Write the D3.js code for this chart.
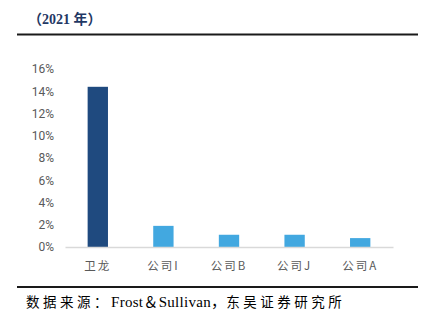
<!DOCTYPE html>
<html>
<head>
<meta charset="utf-8">
<script src="https://cdn.jsdelivr.net/npm/d3@7"></script>
<style>
  body { margin: 0; background: #fff; }
</style>
</head>
<body>
<div id="chart"></div>
<script>
var categories = ["卫龙", "公司I", "公司B", "公司J", "公司A"];
var shares = [14.4, 1.9, 1.1, 1.1, 0.8];
var yTicks = [0, 2, 4, 6, 8, 10, 12, 14, 16];

var width = 435, height = 317;
var plot = {left: 65, right: 393, top: 69, bottom: 247};

var svg = d3.select("#chart").append("svg")
    .attr("width", width)
    .attr("height", height);

// title and frame lines
svg.append("text")
    .attr("x", 28)
    .attr("y", 24)
    .attr("fill", "#1f3864")
    .style("font-family", "'Liberation Serif', 'Noto Sans CJK SC', serif")
    .style("font-weight", "bold")
    .style("font-size", "14px")
    .text("（2021 年）");

svg.append("line")
    .attr("x1", 17).attr("x2", 418)
    .attr("y1", 34.5).attr("y2", 34.5)
    .style("stroke", "#1a1a1a")
    .style("stroke-width", 2);

svg.append("line")
    .attr("x1", 17).attr("x2", 418)
    .attr("y1", 287).attr("y2", 287)
    .style("stroke", "#1a1a1a")
    .style("stroke-width", 2);

var x = d3.scaleBand()
    .domain(categories)
    .range([plot.left, plot.right])
    .paddingInner(0.69)
    .paddingOuter(0.345);

var y = d3.scaleLinear()
    .domain([0, 16])
    .range([plot.bottom, plot.top]);

svg.selectAll("rect.bar")
    .data(shares)
    .enter().append("rect")
    .attr("class", "bar")
    .attr("x", function(d, i){ return x(categories[i]); })
    .attr("y", function(d){ return y(d); })
    .attr("width", x.bandwidth())
    .attr("height", function(d){ return y(0) - y(d); })
    .style("fill", function(d, i){ return i === 0 ? "#1f4a7f" : "#42a8e0"; });

// y axis labels (no line)
var yAxis = svg.append("g")
    .attr("transform", "translate(" + (plot.left - 11) + ",0)")
    .call(d3.axisLeft(y).tickValues(yTicks).tickSize(0).tickPadding(0)
        .tickFormat(function(d){ return d + "%"; }));
yAxis.select(".domain").remove();
yAxis.selectAll("text")
    .style("font-family", "Roboto, 'Noto Sans', sans-serif")
    .style("font-size", "12px")
    .attr("fill", "#595959");

// x axis
var xAxis = svg.append("g")
    .attr("transform", "translate(0," + plot.bottom + ")")
    .call(d3.axisBottom(x).tickSize(0).tickPadding(15));
xAxis.select(".domain")
    .style("stroke", "#d9d9d9")
    .style("stroke-width", 1.5);
xAxis.selectAll("text")
    .style("font-family", "'Noto Sans CJK SC', sans-serif")
    .style("font-size", "11.5px")
    .style("letter-spacing", "2px")
    .attr("fill", "#595959");

// source note
var note = svg.append("text")
    .attr("x", 26)
    .attr("y", 307)
    .attr("fill", "#000")
    .style("font-family", "'Liberation Serif', 'Noto Sans CJK SC', serif")
    .style("font-size", "13.5px");
note.append("tspan").style("letter-spacing", "3.5px").text("数据来源：");
note.append("tspan").style("font-size", "15px").style("letter-spacing", "0.3px").text("Frost＆Sullivan，");
note.append("tspan").style("letter-spacing", "3.5px").text("东吴证券研究所");
</script>
</body>
</html>
